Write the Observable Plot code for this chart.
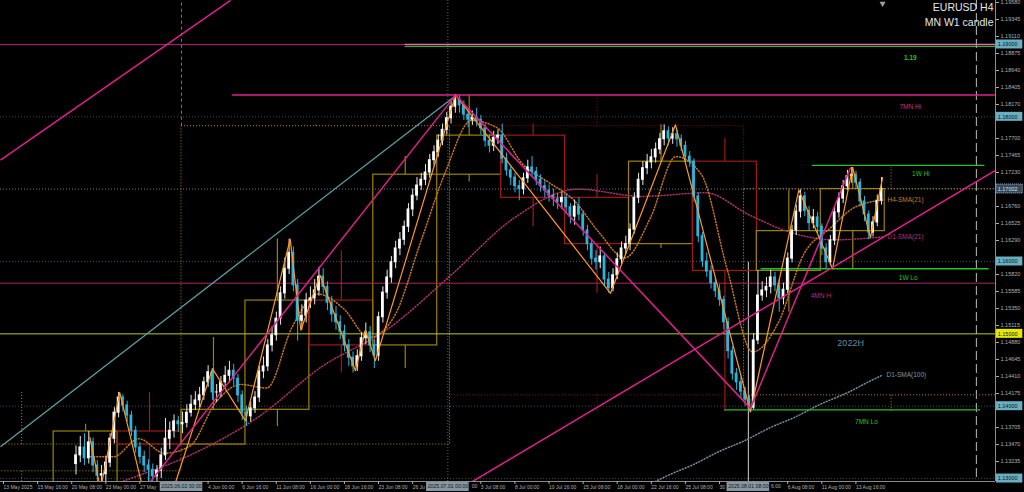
<!DOCTYPE html>
<html><head><meta charset="utf-8">
<script src="https://cdn.jsdelivr.net/npm/d3@7"></script>
<script src="https://cdn.jsdelivr.net/npm/@observablehq/plot@0.6"></script>
<style>html,body{margin:0;padding:0;background:#000;overflow:hidden}</style>
</head><body><div id="chart"></div>
<script>
// ---------- DATA ----------
// 8-hour candles (2 H4 bars each), first candle starts at H4 bar index 34 (bar 0 = 13 May 2025 00:00)
const candleStartBar = 34;
const firstOpen = 1.1320;
const closes = [
1.1332,1.1343,1.1328,1.1350,1.1318,1.1304,1.1306,1.1322,1.1355,1.1391,
1.1412,1.1401,1.1387,1.1366,1.1343,1.1330,1.1318,1.1312,1.1303,1.1311,
1.1332,1.1355,1.1366,1.1379,1.1375,1.1377,1.1391,1.1402,1.1408,1.1415,
1.1433,1.1447,1.1419,1.1419,1.1433,1.1442,1.1449,1.1438,1.1415,1.1391,
1.1386,1.1397,1.1412,1.1448,1.1455,1.1484,1.1498,1.1521,1.1556,1.1590,
1.1612,1.1567,1.1518,1.1525,1.1546,1.1549,1.1560,1.1579,1.1565,1.1543,
1.1527,1.1516,1.1503,1.1484,1.1467,1.1455,1.1469,1.1494,1.1502,1.1484,
1.1470,1.1523,1.1557,1.1578,1.1599,1.1618,1.1630,1.1648,1.1672,1.1691,
1.1705,1.1713,1.1723,1.1740,1.1751,1.1767,1.1782,1.1798,1.1814,1.1824,
1.1816,1.1803,1.1796,1.1799,1.1796,1.1784,1.1767,1.1760,1.1771,1.1774,
1.1742,1.1726,1.1716,1.1704,1.1700,1.1715,1.1730,1.1724,1.1713,1.1704,
1.1698,1.1691,1.1686,1.1682,1.1688,1.1675,1.1662,1.1676,1.1665,1.1643,
1.1624,1.1604,1.1599,1.1607,1.1575,1.1563,1.1581,1.1603,1.1618,1.1624,
1.1644,1.1688,1.1713,1.1729,1.1737,1.1744,1.1755,1.1769,1.1780,1.1770,
1.1776,1.1769,1.1760,1.1745,1.1738,1.1690,1.1635,1.1600,1.1586,1.1570,
1.1559,1.1547,1.1516,1.1476,1.1445,1.1433,1.1420,1.1409,1.1398,1.1491,
1.1553,1.1560,1.1565,1.1578,1.1567,1.1549,1.1561,1.1604,1.1643,1.1669,
1.1690,1.1670,1.1653,1.1661,1.1648,1.1618,1.1599,1.1629,1.1668,1.1687,
1.1704,1.1718,1.1720,1.1709,1.1683,1.1665,1.1640,1.1654,1.1684,1.17002];
const highs = [
1.1345,1.1358,1.1362,1.1365,1.1356,1.1325,1.1318,1.1331,1.1362,1.1398,
1.1419,1.1416,1.1407,1.1393,1.1372,1.1350,1.1338,1.1326,1.1320,1.1318,
1.1342,1.1383,1.1378,1.1388,1.1386,1.1392,1.1402,1.1415,1.1420,1.1426,
1.1440,1.1456,1.1452,1.1430,1.1441,1.1455,1.1462,1.1458,1.1444,1.1421,
1.1400,1.1406,1.1420,1.1455,1.1468,1.1492,1.1510,1.1530,1.1565,1.1605,
1.1631,1.1620,1.1575,1.1540,1.1556,1.1565,1.1575,1.1592,1.1590,1.1572,
1.1552,1.1538,1.1525,1.1512,1.1492,1.1475,1.1478,1.1502,1.1515,1.1510,
1.1492,1.1530,1.1565,1.1588,1.1607,1.1628,1.1640,1.1656,1.1680,1.1700,
1.1716,1.1722,1.1734,1.1748,1.1760,1.1775,1.1790,1.1806,1.1822,1.1830,
1.1829,1.1822,1.1810,1.1808,1.1812,1.1802,1.1790,1.1775,1.1780,1.1782,
1.1790,1.1750,1.1732,1.1722,1.1712,1.1722,1.1740,1.1745,1.1730,1.1720,
1.1712,1.1706,1.1700,1.1694,1.1696,1.1694,1.1680,1.1685,1.1688,1.1670,
1.1650,1.1630,1.1615,1.1620,1.1612,1.1585,1.1590,1.1612,1.1627,1.1635,
1.1652,1.1695,1.1722,1.1738,1.1748,1.1755,1.1764,1.1777,1.1789,1.1786,
1.1785,1.1782,1.1775,1.1766,1.1752,1.1742,1.1695,1.1640,1.1612,1.1594,
1.1578,1.1568,1.1552,1.1522,1.1482,1.1452,1.1440,1.1426,1.1415,1.1500,
1.1587,1.1572,1.1578,1.1588,1.1585,1.1575,1.1570,1.1612,1.1650,1.1678,
1.1699,1.1696,1.1676,1.1672,1.1668,1.1652,1.1625,1.1636,1.1675,1.1695,
1.1712,1.1726,1.1730,1.1725,1.1714,1.1690,1.1670,1.1662,1.1692,1.1716];
const lows = [
1.1305,1.1322,1.1318,1.1320,1.1308,1.1283,1.1290,1.1295,1.1315,1.1348,
1.1384,1.1392,1.1378,1.1358,1.1335,1.1320,1.1308,1.1296,1.1282,1.1211,
1.1300,1.1325,1.1340,1.1356,1.1364,1.1362,1.1370,1.1385,1.1394,1.1398,
1.1408,1.1426,1.1408,1.1405,1.1412,1.1425,1.1432,1.1428,1.1405,1.1380,
1.1372,1.1378,1.1390,1.1405,1.1438,1.1448,1.1475,1.1490,1.1512,1.1548,
1.1582,1.1558,1.1490,1.1505,1.1515,1.1535,1.1540,1.1552,1.1555,1.1532,
1.1516,1.1505,1.1492,1.1475,1.1455,1.1446,1.1448,1.1462,1.1485,1.1474,
1.1452,1.1462,1.1515,1.1548,1.1570,1.1590,1.1608,1.1622,1.1640,1.1662,
1.1684,1.1698,1.1705,1.1715,1.1732,1.1744,1.1760,1.1775,1.1790,1.1805,
1.1805,1.1795,1.1785,1.1788,1.1786,1.1775,1.1758,1.1750,1.1752,1.1762,
1.1735,1.1718,1.1705,1.1695,1.1684,1.1692,1.1708,1.1716,1.1705,1.1696,
1.1688,1.1682,1.1676,1.1672,1.1672,1.1665,1.1652,1.1650,1.1656,1.1635,
1.1615,1.1595,1.1588,1.1590,1.1565,1.1556,1.1558,1.1575,1.1596,1.1610,
1.1615,1.1638,1.1680,1.1705,1.1720,1.1728,1.1736,1.1748,1.1760,1.1760,
1.1762,1.1758,1.1752,1.1738,1.1730,1.1682,1.1626,1.1592,1.1578,1.1562,
1.1550,1.1538,1.1505,1.1465,1.1436,1.1422,1.1410,1.1400,1.1392,1.1395,
1.1485,1.1545,1.1550,1.1555,1.1558,1.1530,1.1540,1.1555,1.1598,1.1636,
1.1660,1.1662,1.1642,1.1645,1.1638,1.1608,1.1590,1.1594,1.1622,1.1660,
1.1680,1.1698,1.1708,1.1700,1.1675,1.1655,1.1630,1.1634,1.1648,1.1678];

// weekly candles (W1): start bar, O, H, L, C
const weekStart = [-6,24,54,84,114,144,174,204,234,264,294,324,354,384];
const weekOpen  = [1.1250,1.1160,1.1365,1.1347,1.1395,1.1546,1.1484,1.1720,1.1774,1.1688,1.1624,1.1738,1.1587,1.1642];
const weekHigh  = [1.1265,1.1375,1.1419,1.1495,1.1631,1.1615,1.1745,1.1830,1.1790,1.1720,1.1789,1.1770,1.1699,1.1730];
const weekLow   = [1.1065,1.1130,1.1211,1.1345,1.1372,1.1446,1.1452,1.1710,1.1648,1.1556,1.1618,1.1392,1.1530,1.1590];
const weekClose = [1.1160,1.1365,1.1347,1.1395,1.1546,1.1484,1.1720,1.1774,1.1688,1.1624,1.1738,1.1587,1.1642,1.17002];
// monthly candles (MN)
const monthStart = [-66,84,210,348];
const monthEnd   = [84,210,348,486];
const monthOpen  = [1.1310,1.1347,1.1787,1.1415];
const monthHigh  = [1.1420,1.1790,1.1830,1.1730];
const monthLow   = [1.1065,1.1345,1.1392,1.1392];
const monthClose = [1.1347,1.1787,1.1415,1.17002];

// zigzag swing points
const zigBars   = [41,46,55,72,98.5,114,135,140,149,165.6,170.3,175,212.6,285.3,315.8,351,373.7,389.5,398.9,407.3,413];
const zigPrices = [1.1357,1.1285,1.1419,1.1211,1.1452,1.1380,1.1631,1.1505,1.1581,1.1449,1.1505,1.1463,1.1830,1.1556,1.1789,1.1392,1.1699,1.1590,1.1730,1.1633,1.1716];

// moving averages
const smaH4Bars = [40,52,64,76,88,100,112,124,136,148,160,172,184,196,208,220,232,244,256,268,280,292,304,316,328,340,352,364,376,388,400,413];
const smaH4Vals = [1.1330,1.1330,1.1355,1.1335,1.1345,1.1405,1.1430,1.1425,1.1510,1.1555,1.1535,1.1495,1.1525,1.1625,1.1725,1.1795,1.1785,1.1735,1.1710,1.1685,1.1640,1.1605,1.1660,1.1745,1.1720,1.1590,1.1475,1.1515,1.1610,1.1645,1.1675,1.1685];
const smaD21Bars = [30,60,90,120,150,180,210,240,270,300,330,350,370,390,413];
const smaD21Vals = [1.1270,1.1300,1.1335,1.1385,1.1455,1.1505,1.1580,1.1660,1.1700,1.1690,1.1695,1.1665,1.1640,1.1630,1.1634];
const smaD100Bars = [300,312,324,336,348,360,372,384,396,408,413];
const smaD100Vals = [1.1286,1.1304,1.1319,1.1337,1.1352,1.1370,1.1385,1.1403,1.1418,1.1436,1.1443];

// trend lines: start (bar, price) -> end (bar, price)
const trendNames = ["fanTeal","steepPink","riseToTop","topToLow","longSupport","augRise"];
const trendB1 = [-0.94,-0.94,69.5,212.6,220.6,351];
const trendP1 = [1.1344,1.1740,1.1296,1.1830,1.1296,1.1397];
const trendB2 = [212.6,107,212.6,351,466,398];
const trendP2 = [1.1829,1.1961,1.1830,1.1397,1.1726,1.1730];

// horizontal levels
const levelNames = ["1.19","7MN Hi","1W Hi","1W Lo","4MN H","2022H","7MN Lo"];
const levelPrices = [1.1900,1.1830,1.1733,1.1590,1.1570,1.1500,1.1395];
const levelFrom = [189,108,380,356,-1,-1,339];
const levelTo   = [466,466,461,463,466,466,459];
const roundLevels = [1.13,1.14,1.16,1.18];
const bidPrice = 1.17002;
const tagPrices = [1.19,1.18,1.17002,1.16,1.15,1.14,1.13];
const tagKinds  = ["round","round","bid","round","yellow","round","round"];

// axis ticks
const priceTicks = [1.13000,1.13235,1.13470,1.13705,1.13940,1.14175,1.14410,1.14645,1.14880,1.15115,1.15350,1.15585,1.15820,1.16055,1.16290,1.16525,1.16760,1.16995,1.17230,1.17465,1.17700,1.17935,1.18170,1.18405,1.18640,1.18875,1.19110,1.19345,1.19580];
const timeTickBars = [0,16,32,48,64,80,96,112,128,144,160,176,192,208,224,240,256,272,288,304,320,336,352,368,384,400];
const timeTickLabels = ["13 May 2025","15 May 16:00","20 May 08:00","23 May 00:00","27 May 16:00","30 May 08:00","4 Jun 00:00","6 Jun 16:00","11 Jun 08:00","16 Jun 00:00","18 Jun 16:00","23 Jun 08:00","26 Jun 00:00","30 Jun 16:00","3 Jul 08:00","8 Jul 00:00","10 Jul 16:00","15 Jul 08:00","18 Jul 00:00","22 Jul 16:00","25 Jul 08:00","30 Jul 00:00","1 Aug 16:00","6 Aug 08:00","11 Aug 00:00","13 Aug 16:00"];
const sepBars = [84,209,350];
const sepLabels = ["2025.06.02 00:00","2025.07.01 00:00","2025.08.01 08:00"];
const futureBar = 457;
const lastBar = 413;

// ---------- BUILD ----------
const candles = closes.map((c,k)=>{
  const o = k===0 ? firstOpen : closes[k-1];
  return {b: candleStartBar + 2*k + 0.5, open:o, close:c, high:highs[k], low:lows[k], up: c>=o};
});
const weeks = weekStart.map((b,i)=>({b1:b, b2:b+30, mid:b+15, o:weekOpen[i], h:weekHigh[i], l:weekLow[i], c:weekClose[i], up:weekClose[i]>=weekOpen[i]}));
const months = monthStart.map((b,i)=>({b1:b, b2:monthEnd[i], mid:(b+monthEnd[i])/2, o:monthOpen[i], h:monthHigh[i], l:monthLow[i], c:monthClose[i], up:monthClose[i]>=monthOpen[i]}));
const zig = zigBars.map((b,i)=>({b, p:zigPrices[i]}));
const smaH4 = smaH4Bars.map((b,i)=>({b, v:smaH4Vals[i]}));
const smaD21 = smaD21Bars.map((b,i)=>({b, v:smaD21Vals[i]}));
const smaD100 = smaD100Bars.map((b,i)=>({b, v:smaD100Vals[i]}));
const trends = trendNames.map((n,i)=>({n, b1:trendB1[i], p1:trendP1[i], b2:trendB2[i], p2:trendP2[i]}));
const levels = levelNames.map((n,i)=>({n, p:levelPrices[i], b1:levelFrom[i], b2:levelTo[i]}));
const L = Object.fromEntries(levels.map(d=>[d.n,d]));
const tags = tagPrices.map((p,i)=>({p, kind:tagKinds[i]}));

const xDom = [-0.9385, 465.98];
const yDom = [1.12959, 1.19608];
const plotW = 995;
const pxP = (yDom[1]-yDom[0])/481;
const barPx = plotW/(xDom[1]-xDom[0]);
const toPx = b => (b - xDom[0]) * barPx;
const sepHalf = 10;           // half width of the time tags, in bars
const charW = 2.5;            // approx. width of one axis character (5px font)

// time labels partly covered by the time tags: keep the visible part only (as in the terminal)
const timeHead = new Map(), timeTails = [];
timeTickBars.forEach((t,i)=>{
  const text = timeTickLabels[i], s = toPx(t) + 1;
  let head = text;
  for (const sb of sepBars) {
    const a = toPx(sb - sepHalf), e = toPx(sb + sepHalf);
    if (s < a && s + text.length*charW > a) head = text.slice(0, Math.max(0, Math.floor((a - s - 1)/charW)));
    else if (s >= a && s < e) {
      head = "";
      const hidden = Math.ceil((e + 1 - s)/charW);
      if (hidden < text.length) timeTails.push({b: t + hidden*charW/barPx, t: text.slice(hidden)});
    }
  }
  timeHead.set(t, head);
});
const shownPriceTicks = priceTicks.filter(t => tagPrices.every(p => Math.abs(p - t) > 6*pxP));

const pink = "#e0208a", green = "#22c322";
const bull = "#9a8400", bear = "#a01818";
const font = "Liberation Sans, Arial, sans-serif";

const chart = Plot.plot({
  width: 1024, height: 492,
  marginLeft: 0, marginRight: 29, marginTop: 0, marginBottom: 11,
  style: {background: "#000", color: "#b8b8b8", fontFamily: font, overflow: "hidden"},
  x: {domain: xDom, axis: null},
  y: {domain: yDom, axis: null},
  marks: [
    Plot.ruleY(roundLevels, {stroke: "#3f4d57", strokeDasharray: "1,2", clip: true}),
    Plot.ruleY([bidPrice], {stroke: "#6a7e8a", strokeDasharray: "1,2", clip: true}),
    Plot.ruleX([sepBars[0]], {y1: 1.1787, y2: yDom[1], stroke: "#777", strokeDasharray: "3,3"}),
    Plot.ruleX([sepBars[1]], {stroke: "#666", strokeDasharray: "1,2"}),
    Plot.ruleX([sepBars[2]], {y1: yDom[0], y2: 1.1599, stroke: "#cfcfcf", strokeWidth: 1}),
    Plot.ruleX([futureBar], {stroke: "#bdbdbd", strokeDasharray: "9,4"}),
    // monthly candles (dotted)
    Plot.rect(months, {x1:"b1", x2:"b2", y1:"o", y2:"c", fill:"none", stroke: d=>d.up?"#b88a0a":"#8b1414", strokeDasharray:"1,2", clip:true}),
    Plot.ruleX(months, {x:"mid", y1: d=>Math.max(d.o,d.c), y2:"h", stroke: d=>d.up?"#b88a0a":"#8b1414", strokeDasharray:"1,2", clip:true}),
    Plot.ruleX(months, {x:"mid", y1: d=>Math.min(d.o,d.c), y2:"l", stroke: d=>d.up?"#b88a0a":"#8b1414", strokeDasharray:"1,2", clip:true}),
    // weekly candles
    Plot.rect(weeks, {x1:"b1", x2:"b2", y1:"o", y2:"c", fill:"none", stroke: d=>d.up?bull:bear, strokeWidth:1.2, clip:true}),
    Plot.ruleX(weeks, {x:"mid", y1: d=>Math.max(d.o,d.c), y2:"h", stroke: d=>d.up?bull:bear, strokeWidth:1.2, clip:true}),
    Plot.ruleX(weeks, {x:"mid", y1: d=>Math.min(d.o,d.c), y2:"l", stroke: d=>d.up?bull:bear, strokeWidth:1.2, clip:true}),
    // horizontal levels
    Plot.ruleY([L["4MN H"]], {y:"p", x1:"b1", x2:"b2", stroke:"#b02265", clip:true}),
    Plot.ruleY([L["2022H"]], {y:"p", x1:"b1", x2:"b2", stroke:"#b9cc2a", clip:true}),
    Plot.ruleY([L["1.19"]], {y:"p", x1:-1, x2:"b2", stroke:"#c0157a", clip:true}),
    Plot.ruleY([L["1.19"]], {y:"p", x1:"b1", x2:"b2", stroke:"#e070a8", strokeWidth:1.5, clip:true}),
    Plot.ruleY([L["1.19"]], {y:"p", x1:"b1", x2:"b2", dy:2, stroke:green, clip:true}),
    Plot.ruleY([L["7MN Hi"]], {y:"p", x1:"b1", x2:"b2", stroke:pink, strokeWidth:1.5, clip:true}),
    Plot.ruleY([L["1W Hi"], L["1W Lo"], L["7MN Lo"]], {y:"p", x1:"b1", x2:"b2", stroke:green, strokeWidth:1.3, clip:true}),
    // moving averages
    Plot.line(smaD100, {x:"b", y:"v", stroke:"#6f8c9c", strokeDasharray:"1,2", curve:"monotone-x", clip:true}),
    Plot.line(smaD21, {x:"b", y:"v", stroke:"#b0306a", strokeDasharray:"1,2", curve:"monotone-x", clip:true}),
    Plot.line(smaH4, {x:"b", y:"v", stroke:"#c8751a", strokeDasharray:"1,2", curve:"monotone-x", clip:true}),
    // candles
    Plot.ruleX(candles, {x:"b", y1:"low", y2:"high", stroke: d=>d.up?"#e8e8e8":"#2cb5dd", clip:true}),
    Plot.rect(candles, {x1: d=>d.b-0.65, x2: d=>d.b+0.65, y1:"open", y2:"close", insetTop:-0.5, insetBottom:-0.5, fill: d=>d.up?"#ffffff":"#2cb5dd", clip:true}),
    // zigzag & trend lines
    Plot.line(zig, {x:"b", y:"p", stroke:"#ff9a1e", strokeWidth:1.2, clip:true}),
    Plot.link(trends.filter(d=>d.n==="fanTeal"), {x1:"b1", y1:"p1", x2:"b2", y2:"p2", stroke:"#5e9ea6", strokeWidth:1.3, clip:true}),
    Plot.link(trends.filter(d=>d.n!=="fanTeal"), {x1:"b1", y1:"p1", x2:"b2", y2:"p2", stroke:pink, strokeWidth:1.5, clip:true}),
    // level labels
    Plot.text([L["1.19"]], {x:426, y:"p", dy:13, text:"n", fill:green, fontWeight:"bold", fontSize:6.5}),
    Plot.text([L["7MN Hi"]], {x:426, y:"p", dy:12, text:"n", fill:"#d0308a", fontSize:6.5}),
    Plot.text([L["1W Hi"]], {x:431, y:"p", dy:9, text:"n", fill:green, fontSize:6.5}),
    Plot.text([L["1W Lo"]], {x:425, y:"p", dy:9, text:"n", fill:green, fontSize:6.5}),
    Plot.text([L["4MN H"]], {x:384, y:"p", dy:13, text:"n", fill:"#c0287a", fontSize:6.5}),
    Plot.text([L["2022H"]], {x:398, y:"p", dy:9, text:"n", fill:"#5c8ea0", fontSize:9}),
    Plot.text([L["7MN Lo"]], {x:405.4, y:"p", dy:12, text:"n", fill:green, fontSize:6.5}),
    Plot.text([smaH4[smaH4.length-1]], {x:415.3, y:"v", text:()=> "H4-SMA(21)", textAnchor:"start", fill:"#d07a18", fontSize:6.5}),
    Plot.text([smaD21[smaD21.length-1]], {x:415.3, y:"v", text:()=> "D1-SMA(21)", textAnchor:"start", fill:"#b8306e", fontSize:6.5}),
    Plot.text([smaD100[smaD100.length-1]], {x:414.8, y:"v", text:()=> "D1-SMA(100)", textAnchor:"start", fill:"#7a97a8", fontSize:6.5}),
    // title
    Plot.text(["EURUSD H4"], {frameAnchor:"top-right", dx:-2, dy:3, lineAnchor:"top", fill:"#e6e6e6", fontSize:10.5}),
    Plot.text(["MN W1 candle"], {frameAnchor:"top-right", dx:-2, dy:18, lineAnchor:"top", fill:"#e6e6e6", fontSize:10.5}),
    Plot.dot([lastBar], {x: d=>d, frameAnchor:"top", dy:3, symbol:"triangle", r:2.2, rotate:180, fill:"#a0a0a0"}),
    // axes
    Plot.ruleX([xDom[1]], {stroke:"#8a8a8a"}),
    Plot.ruleY([yDom[0]], {stroke:"#8a8a8a"}),
    Plot.axisY(shownPriceTicks, {anchor:"right", tickSize:3, tickPadding:2, tickFormat: d=>d.toFixed(5), fontSize:5.5, color:"#b0b0b0"}),
    Plot.axisX(timeTickBars, {anchor:"bottom", tickSize:3, tickPadding:1, textAnchor:"start", dx:1, tickFormat: d=>timeHead.get(d), fontSize:5, color:"#b0b0b0"}),
    Plot.text(timeTails, {x:"b", text:"t", frameAnchor:"bottom", dy:6.5, dx:1, textAnchor:"start", fontSize:5, fill:"#b0b0b0"}),
    // price tags on the right axis
    Plot.rect(tags, {x1:466.4, x2:478.8, y1: d=>d.p-4.5*pxP, y2: d=>d.p+4.5*pxP,
      fill: d=>d.kind==="yellow"?"#e6e600":d.kind==="bid"?"#34495a":"#6aaec2",
      stroke: d=>d.kind==="bid"?"#a8bcc8":"none", strokeDasharray:"1,1"}),
    Plot.text(tags, {x:467, y:"p", text: d=>d.p.toFixed(5), textAnchor:"start", fontSize:5.5,
      fill: d=>d.kind==="bid"?"#d8e4ea":"#06141c"}),
    // time tags on the bottom axis
    Plot.rect(sepBars, {x1: d=>d-sepHalf, x2: d=>d+sepHalf, y1: yDom[0]-1*pxP, y2: yDom[0]-10*pxP, fill:"#8797a2"}),
    Plot.text(sepBars, {x: d=>d, frameAnchor:"bottom", dy:6, text:(d,i)=>sepLabels[i], fontSize:5.2, fill:"#0c1820"})
  ]
});
document.getElementById("chart").appendChild(chart);
</script></body></html>
